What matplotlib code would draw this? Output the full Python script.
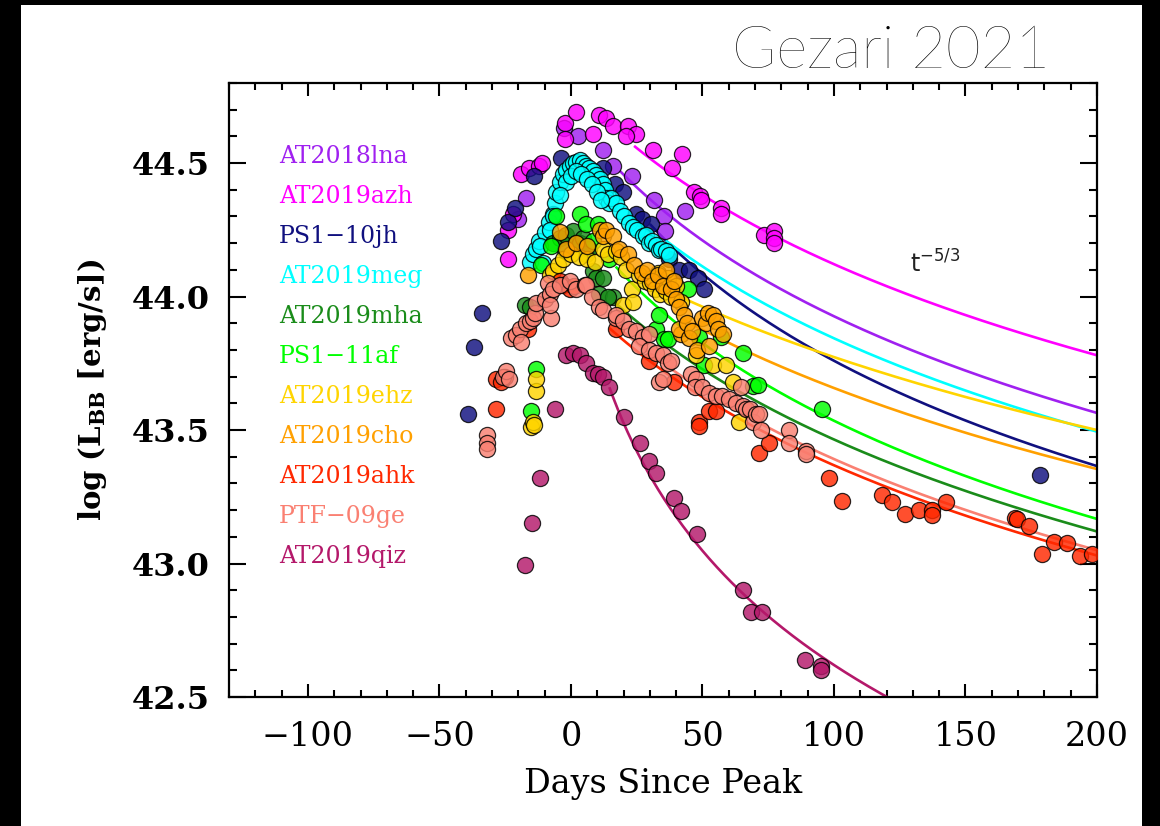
import numpy as np
import matplotlib
matplotlib.use("Agg")
import matplotlib.pyplot as plt
from matplotlib.patches import Rectangle
from matplotlib.ticker import MultipleLocator, FuncFormatter

plt.rcParams["mathtext.fontset"] = "dejavuserif"

# ---------------- data: days since peak, log L_BB [erg/s] ----------------
at2018lna_days = [-20, -17, -2.5, 2.6, 12.1, 15.9, 23.3, 31.7, 35.5, 35.8, 43.5]
at2018lna_logl = [44.29, 44.37, 44.63, 44.60, 44.55, 44.49, 44.45, 44.36, 44.30, 44.245, 44.32]

at2019azh_days = [-24, -24, -22, -19, -16, -12, -11, -2.4, -2.4, 2, 8.3, 10.6, 13.4, 15.9,
                  21.6, 24.8, 21, 31.1, 38.3, 42.3, 46.9, 49.1, 49.5, 57.1, 57.1, 73.5,
                  77.3, 77.3, 77.3]
at2019azh_logl = [44.14, 44.25, 44.31, 44.46, 44.48, 44.49, 44.50, 44.65, 44.59, 44.69, 44.61,
                  44.68, 44.67, 44.64, 44.64, 44.61, 44.60, 44.55, 44.48, 44.535, 44.39,
                  44.375, 44.36, 44.33, 44.31, 44.23, 44.245, 44.22, 44.20]

ps1_10jh_days = [-39.1, -36.7, -34, -26.5, -24, -21.4, -13.9, -3.7, 12.1, 16.6, 19.7, 24.8,
                 27.1, 30.5, 37.4, 41.2, 45, 48.2, 50.5, 178.3]
ps1_10jh_logl = [43.56, 43.81, 43.94, 44.21, 44.28, 44.33, 44.45, 44.52, 44.48, 44.42, 44.39,
                 44.31, 44.29, 44.27, 44.14, 44.10, 44.10, 44.07, 44.03, 43.33]

at2019meg_days = [-15.7, -14.5, -13.2, -12, -10, -8.5, -6.9, -6.2, -5.6, -4.3, -3, -1.8, -0.5,
                  0.7, 2, 3.3, 4.5, 5.8, 7, 8.3, 9.6, 10.9, 12, 12.8, 13.4, 14.6, 15.3, 17.2,
                  18.5, 20, 22.2, 23.5, 25, 27.3, 28.6, 29.8, 31, 32.4, 33.6, 34.3, 36.2, 37.4,
                  -2, 0, 2, 4, 6, 8, -4, -7, -8.1, -10.7, -11.9, 10, 11.5]
at2019meg_logl = [44.13, 44.16, 44.18, 44.21, 44.24, 44.28, 44.31, 44.35, 44.39, 44.43, 44.46,
                  44.475, 44.49, 44.50, 44.505, 44.51, 44.50, 44.49, 44.48, 44.47, 44.455,
                  44.44, 44.42, 44.40, 44.37, 44.35, 44.37, 44.35, 44.32, 44.30, 44.275, 44.26,
                  44.25, 44.225, 44.23, 44.20, 44.21, 44.195, 44.175, 44.18, 44.17, 44.157,
                  44.43, 44.45, 44.47, 44.46, 44.44, 44.42, 44.38, 44.30, 44.25, 44.125, 44.19,
                  44.39, 44.36]

at2019mha_days = [-17.6, -15.7, -6.9, -4.3, -1.8, -2.4, 0.7, 2, 3.3, 5.8, 4.5, 7, 8.3, 9.6,
                  10.8, 12.1, 15.9, 14]
at2019mha_logl = [43.97, 43.96, 44.20, 44.22, 44.23, 44.175, 44.245, 44.20, 44.20, 44.16,
                  44.22, 44.18, 44.095, 44.07, 44.01, 44.07, 44.00, 44.00]

ps1_11af_days = [-15.1, -13.2, -11.3, -7.5, -5.6, 3.5, 5.8, 8.3, 10.2, 14.6, 32.4, 33.6, 35.5,
                 37, 44.4, 48.8, 50.6, 57.1, 65.3, 69.1, 71, 95.6]
ps1_11af_logl = [43.57, 43.73, 44.12, 44.19, 44.30, 44.31, 44.27, 44.21, 44.27, 44.14, 43.88,
                 43.93, 43.84, 43.84, 44.03, 43.85, 43.745, 43.85, 43.79, 43.665, 43.67, 43.58]

at2019ehz_days = [-15.1, -14.5, -14, -13.2, -13.2, -8, -6.9, -5, -3, 0, 3, 6, 9, 12.1, 14,
                  17.2, 19, 19.7, 21, 23.3, 23.5, 26, 28, 30, 31, 32, 33, 34, 35, 36, 37, 38,
                  40, 42, 47.6, 53.9, 58.9, 61.5, 64]
at2019ehz_logl = [43.51, 43.53, 43.52, 43.645, 43.69, 44.08, 44.095, 44.12, 44.14, 44.16,
                  44.15, 44.14, 44.13, 44.18, 44.16, 44.17, 44.15, 43.97, 44.10, 44.03, 43.98,
                  44.08, 44.06, 44.05, 44.07, 44.03, 44.09, 44.01, 44.05, 44.02, 44.07, 44.00,
                  44.04, 43.98, 43.78, 43.745, 43.745, 43.68, 43.53]

at2019cho_days = [-16.4, -4, -2, 2, 6, 11, 12.1, 13.4, 15.9, 18.4, 21.8, 24, 27, 29, 31, 33,
                  35, 36, 38, 39, 40, 41, 41.9, 41.2, 43, 44, 45, 46, 48, 50, 51.3, 52, 52.6,
                  54, 55.2, 56, 58]
at2019cho_logl = [44.08, 44.24, 44.18, 44.20, 44.19, 44.25, 44.225, 44.25, 44.225, 44.18,
                  44.16, 44.12, 44.09, 44.10, 44.06, 44.08, 44.04, 44.10, 44.03, 44.06, 43.99,
                  43.96, 43.86, 43.88, 43.93, 43.90, 43.845, 43.87, 43.80, 43.92, 43.90, 43.94,
                  43.815, 43.93, 43.91, 43.88, 43.86]

at2019ahk_days = [-28.4, -28.4, -26.5, -25, -16.4, -4.3, -3, -0.5, 1, 17.2, 29.8, 39.3, 48.8,
                  48.8, 52.6, 55, 71.6, 75.4, 98.2, 103.2, 118.2, 122.2, 127, 132.3, 137.4,
                  137.4, 142.5, 169, 169.5, 174, 179, 183.6, 188.6, 193.7, 198]
at2019ahk_logl = [43.58, 43.69, 43.68, 43.70, 43.88, 44.06, 44.045, 44.03, 44.04, 43.88, 43.76,
                  43.68, 43.53, 43.515, 43.57, 43.57, 43.415, 43.45, 43.32, 43.235, 43.255,
                  43.23, 43.185, 43.20, 43.20, 43.18, 43.23, 43.17, 43.165, 43.14, 43.035,
                  43.08, 43.075, 43.03, 43.035]

ptf_09ge_days = [-32.1, -32.1, -32.1, -26, -24.5, -23.5, -22.6, -21, -19.5, -18.9, -17, -15.5,
                 -14.5, -13.8, -13.2, -10, -8.6, -8.1, -7.5, -8.1, -6.9, -4.3, -0.5, 2, 5.2,
                 5.8, 8, 10.8, 12, 17.2, 17.2, 19.7, 22.2, 24.8, 27.3, 29.8, 26, 29.8, 32.3,
                 34.9, 36.8, 38, 33.6, 34.9, 45.6, 47.6, 47, 50, 52.5, 55, 57.6, 60.2, 62.7,
                 64.6, 65.3, 66.5, 67.9, 69.1, 70.4, 71.6, 72.2, 83, 83, 89.3, 89.3]
ptf_09ge_logl = [43.48, 43.45, 43.43, 43.70, 43.72, 43.69, 43.845, 43.855, 43.88, 43.83, 43.90,
                 43.91, 43.92, 43.94, 43.975, 43.99, 44.05, 44.01, 43.92, 43.97, 44.03, 44.045,
                 44.057, 44.03, 44.045, 44.045, 44.00, 43.96, 43.95, 43.92, 43.93, 43.91,
                 43.88, 43.87, 43.85, 43.86, 43.815, 43.80, 43.79, 43.78, 43.75, 43.76, 43.68,
                 43.69, 43.71, 43.69, 43.66, 43.66, 43.64, 43.627, 43.627, 43.615, 43.60,
                 43.66, 43.59, 43.58, 43.58, 43.53, 43.56, 43.56, 43.50, 43.50, 43.45, 43.42,
                 43.41]

at2019qiz_days = [-17.6, -14.7, -11.9, -6.2, -1.8, 0.7, 3.3, 5.8, 8.3, 10.2, 12.1, 14.6, 20.3,
                  26.3, 29.6, 32.4, 39.3, 41.8, 47.8, 65.5, 68.4, 72.5, 89, 95, 95]
at2019qiz_logl = [42.995, 43.15, 43.32, 43.58, 43.78, 43.79, 43.78, 43.75, 43.715, 43.71,
                  43.70, 43.66, 43.55, 43.45, 43.385, 43.34, 43.245, 43.195, 43.11, 42.90,
                  42.82, 42.82, 42.64, 42.617, 42.60]

names = ["AT2018lna", "AT2019azh", "PS1\u221210jh", "AT2019meg", "AT2019mha", "PS1\u221211af",
         "AT2019ehz", "AT2019cho", "AT2019ahk", "PTF\u221209ge", "AT2019qiz"]
colors = ["#A020F0", "#FF00FF", "#10107F", "#00FFFF", "#1A8C1A", "#00FF00",
          "#FFD400", "#FFA000", "#FF2800", "#FA8072", "#B4186A"]
days = [at2018lna_days, at2019azh_days, ps1_10jh_days, at2019meg_days, at2019mha_days,
        ps1_11af_days, at2019ehz_days, at2019cho_days, at2019ahk_days, ptf_09ge_days,
        at2019qiz_days]
logl = [at2018lna_logl, at2019azh_logl, ps1_10jh_logl, at2019meg_logl, at2019mha_logl,
        ps1_11af_logl, at2019ehz_logl, at2019cho_logl, at2019ahk_logl, ptf_09ge_logl,
        at2019qiz_logl]

# t^-5/3 fits: start of fit, time offset t0, and log L at t = 200 d
fit_start = [18.5, 24, 30, 36, 16.5, 17, 41, 42, 14.6, 17, 14.6]
fit_t0 = [-54, -66, -38, -61, -64, -51, -118, -92, -68, -66, -12]
fit_level200 = [43.564, 43.78, 43.365, 43.494, 43.12, 43.167, 43.50, 43.354, 43.03, 43.05, 42.158]

# ---------------- figure ----------------
fig = plt.figure(figsize=(11.6, 8.26), dpi=100, facecolor="black")
fig.patches.append(Rectangle((21 / 1160, 0), (1142 - 21) / 1160, 1 - 5 / 826,
                             transform=fig.transFigure, facecolor="white",
                             edgecolor="none", zorder=-5))

ax = fig.add_axes([229 / 1160, 1 - 697 / 826, (1097 - 229) / 1160, (697 - 83) / 826])
ax.set_zorder(2)
ax.set_facecolor("white")
ax.set_xlim(-130, 200)
ax.set_ylim(42.5, 44.8)

for i in range(len(names)):
    t = np.linspace(fit_start[i], 200, 400)
    model = fit_level200[i] + 5.0 / 3.0 * np.log10((200 - fit_t0[i]) / (t - fit_t0[i]))
    ax.plot(t, model, color=colors[i], lw=1.9, zorder=2, solid_capstyle="butt")

for i in range(len(names)):
    ax.scatter(days[i], logl[i], s=135, facecolor=colors[i], edgecolor="black",
               linewidths=0.9, alpha=0.82, zorder=3 + i * 0.01)

for i, nm in enumerate(names):
    ax.text(0.0577, 0.8795 - i * 0.0651, nm, transform=ax.transAxes, color=colors[i],
            fontsize=17, family="DejaVu Serif", va="center", ha="left")

ax.text(129, 44.09, r"t$^{-5/3}$", fontsize=17, family="DejaVu Sans",
        math_fontfamily="dejavusans", color="#222222", va="baseline")

ax.xaxis.set_major_locator(MultipleLocator(50))
ax.xaxis.set_minor_locator(MultipleLocator(10))
ax.yaxis.set_major_locator(MultipleLocator(0.5))
ax.yaxis.set_minor_locator(MultipleLocator(0.1))
ax.tick_params(axis="both", which="both", direction="in", top=True, right=True,
               width=1.5, color="black")
ax.tick_params(axis="x", which="major", length=9.5, pad=17)
ax.tick_params(axis="x", which="minor", length=5)
ax.tick_params(axis="y", which="major", length=12.5, pad=14)
ax.tick_params(axis="y", which="minor", length=6)
for sp in ax.spines.values():
    sp.set_linewidth(1.6)

ax.xaxis.set_major_formatter(FuncFormatter(lambda v, p: f"{v:.0f}".replace("-", "\u2212")))
ax.yaxis.set_major_formatter(FuncFormatter(lambda v, p: f"{v:.1f}"))
for lab in ax.get_xticklabels():
    lab.set_fontfamily("DejaVu Serif")
    lab.set_fontsize(24)
for lab in ax.get_yticklabels():
    lab.set_fontfamily("DejaVu Serif")
    lab.set_fontsize(23)
    lab.set_fontweight("bold")

ax.set_xlabel("Days Since Peak", fontsize=24, family="DejaVu Serif", labelpad=11)
ax.set_ylabel(r"log (L$_{\mathbf{BB}}$ [erg/s])", fontsize=21, family="DejaVu Serif",
              fontweight="bold", labelpad=16)

fig.text(1050 / 1160, 1 - 68 / 826, "Gezari 2021", fontsize=43, family="Lato",
         fontweight="light", color="black", ha="right", va="baseline")

fig.savefig("out.png", dpi=100, facecolor=fig.get_facecolor())
